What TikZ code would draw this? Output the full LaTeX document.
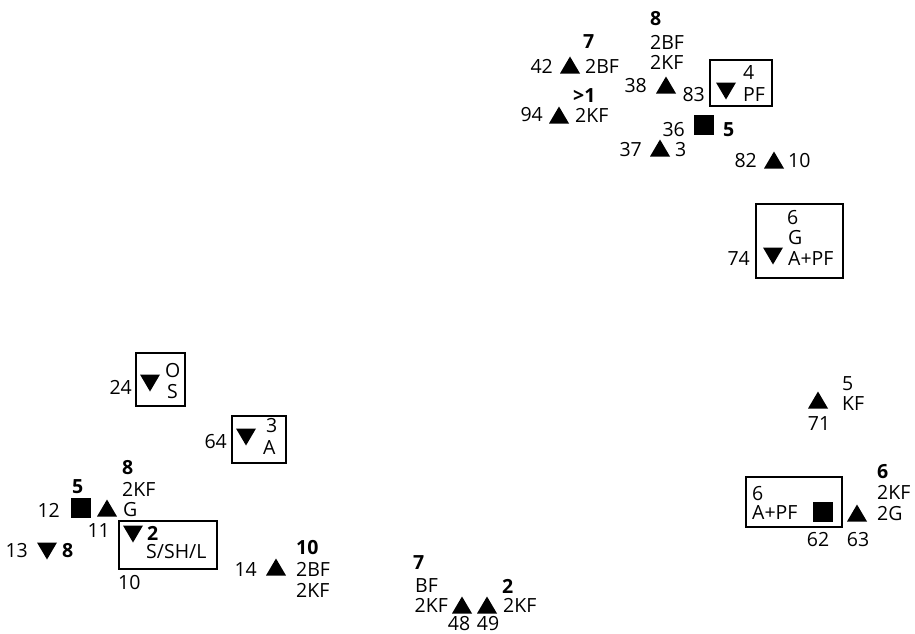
\documentclass[tikz,border=0pt]{standalone}
\usepackage{fontspec}
\setmainfont{Open Sans}
\tikzset{
  lbl/.style={inner sep=0pt, font=\fontsize{19.5}{21}\selectfont},
  bl/.style={lbl, font=\fontsize{19.5}{21}\selectfont\bfseries},
  frame/.style={draw, line width=1.8pt},
  tup/.pic={\fill (-10pt,-8.5pt) -- (10pt,-8.5pt) -- (0pt,8.5pt) -- cycle;},
  tdn/.pic={\fill (-10pt,8.5pt) -- (10pt,8.5pt) -- (0pt,-8.5pt) -- cycle;},
  sq/.pic={\fill (-10pt,-10pt) rectangle (10pt,10pt);}
}
\begin{document}
\begin{tikzpicture}[x=1pt,y=-1pt]
\useasboundingbox (0,0) rectangle (915,634);
% ---- top cluster
\node[bl,anchor=west] (a8) at (650,19) {8};
\node[lbl,anchor=west] (a2bf) at (650,42) {2BF};
\node[lbl,anchor=west] (a2kf) at (650,62) {2KF};
\node[lbl,anchor=east] (n38) at (647,86) {38};
\pic at (666,85) {tup};
\draw[frame] (710,60) rectangle (772,106);
\node[lbl,anchor=east] (n83) at (705,95) {83};
\pic at (726,91) {tdn};
\node[lbl,anchor=west] (b4) at (743,73) {4};
\node[lbl,anchor=west] (bpf) at (743,95) {PF};
\node[bl,anchor=west] (c7) at (583,42) {7};
\node[lbl,anchor=east] (n42) at (553,66) {42};
\pic at (570,65) {tup};
\node[lbl,anchor=west] (c2bf) at (585,66) {2BF};
\node[bl,anchor=west] (dgt) at (573,96) {>1};
\node[lbl,anchor=east] (n94) at (543,115) {94};
\pic at (559,115) {tup};
\node[lbl,anchor=west] (d2kf) at (575,115) {2KF};
\node[lbl,anchor=east] (n36) at (685,130) {36};
\pic at (704,125) {sq};
\node[bl,anchor=west] (e5) at (723,130) {5};
\node[lbl,anchor=east] (n37) at (642,150) {37};
\pic at (660,148) {tup};
\node[lbl,anchor=west] (f3) at (675,150) {3};
\node[lbl,anchor=east] (n82) at (757,161) {82};
\pic at (774,160) {tup};
\node[lbl,anchor=west] (g10) at (788,161) {10};
% ---- box 74
\draw[frame] (756,204) rectangle (843,278);
\node[lbl,anchor=west] (h6) at (787,218) {6};
\node[lbl,anchor=west] (hg) at (788,238) {G};
\node[lbl,anchor=west] (hapf) at (788,259) {A+PF};
\pic at (773,256) {tdn};
\node[lbl,anchor=east] (n74) at (750,258) {74};
% ---- left cluster
\draw[frame] (136,353) rectangle (185,406);
\pic at (150,383) {tdn};
\node[lbl,anchor=west] (io) at (165,371) {O};
\node[lbl,anchor=west] (is) at (167,392) {S};
\node[lbl,anchor=east] (n24) at (132,387) {24};
\draw[frame] (232,416) rectangle (286,463);
\pic at (246,437) {tdn};
\node[lbl,anchor=west] (j3) at (266,426) {3};
\node[lbl,anchor=west] (ja) at (263,448) {A};
\node[lbl,anchor=east] (n64) at (227,442) {64};
\node[bl,anchor=west] (k8) at (122,468) {8};
\node[lbl,anchor=west] (k2kf) at (122,489) {2KF};
\node[lbl,anchor=west] (kg) at (123,510) {G};
\pic at (107,508) {tup};
\pic at (81,508) {sq};
\node[bl,anchor=west] (l5) at (72,487) {5};
\node[lbl,anchor=east] (n12) at (60,510) {12};
\node[lbl,anchor=east] (n11) at (110,531) {11};
\draw[frame] (119,521) rectangle (217,569);
\pic at (133,534) {tdn};
\node[bl,anchor=west] (m2) at (147,533) {2};
\node[lbl,anchor=west] (msshl) at (146,552) {S/SH/L};
\node[lbl,anchor=west] (n10) at (118,583) {10};
\node[lbl,anchor=east] (n13) at (28,551) {13};
\pic at (47,551) {tdn};
\node[bl,anchor=west] (o8) at (62,551) {8};
\node[lbl,anchor=east] (n14) at (257,569) {14};
\pic at (276,567) {tup};
\node[bl,anchor=west] (p10) at (296,548) {10};
\node[lbl,anchor=west] (p2bf) at (296,569) {2BF};
\node[lbl,anchor=west] (p2kf) at (296,590) {2KF};
% ---- bottom centre
\node[bl,anchor=west] (q7) at (413,563) {7};
\node[lbl,anchor=west] (qbf) at (415,586) {BF};
\node[lbl,anchor=east] (q2kf) at (448,605) {2KF};
\pic at (462,605) {tup};
\pic at (487,605) {tup};
\node[bl,anchor=west] (r2) at (502,586) {2};
\node[lbl,anchor=west] (r2kf) at (503,605) {2KF};
\node[lbl] (n48) at (459,624) {48};
\node[lbl] (n49) at (488,624) {49};
% ---- right
\node[lbl,anchor=west] (s5) at (842,384) {5};
\node[lbl,anchor=west] (skf) at (842,404) {KF};
\pic at (818,400) {tup};
\node[lbl] (n71) at (819,424) {71};
\draw[frame] (746,477) rectangle (842,527);
\node[lbl,anchor=west] (t6) at (752,494) {6};
\node[lbl,anchor=west] (tapf) at (752,513) {A+PF};
\pic at (823,512) {sq};
\pic at (857,513) {tup};
\node[bl,anchor=west] (u6) at (877,472) {6};
\node[lbl,anchor=west] (u2kf) at (877,492) {2KF};
\node[lbl,anchor=west] (u2g) at (877,514) {2G};
\node[lbl] (n62) at (818,540) {62};
\node[lbl] (n63) at (858,540) {63};
\end{tikzpicture}
\end{document}
